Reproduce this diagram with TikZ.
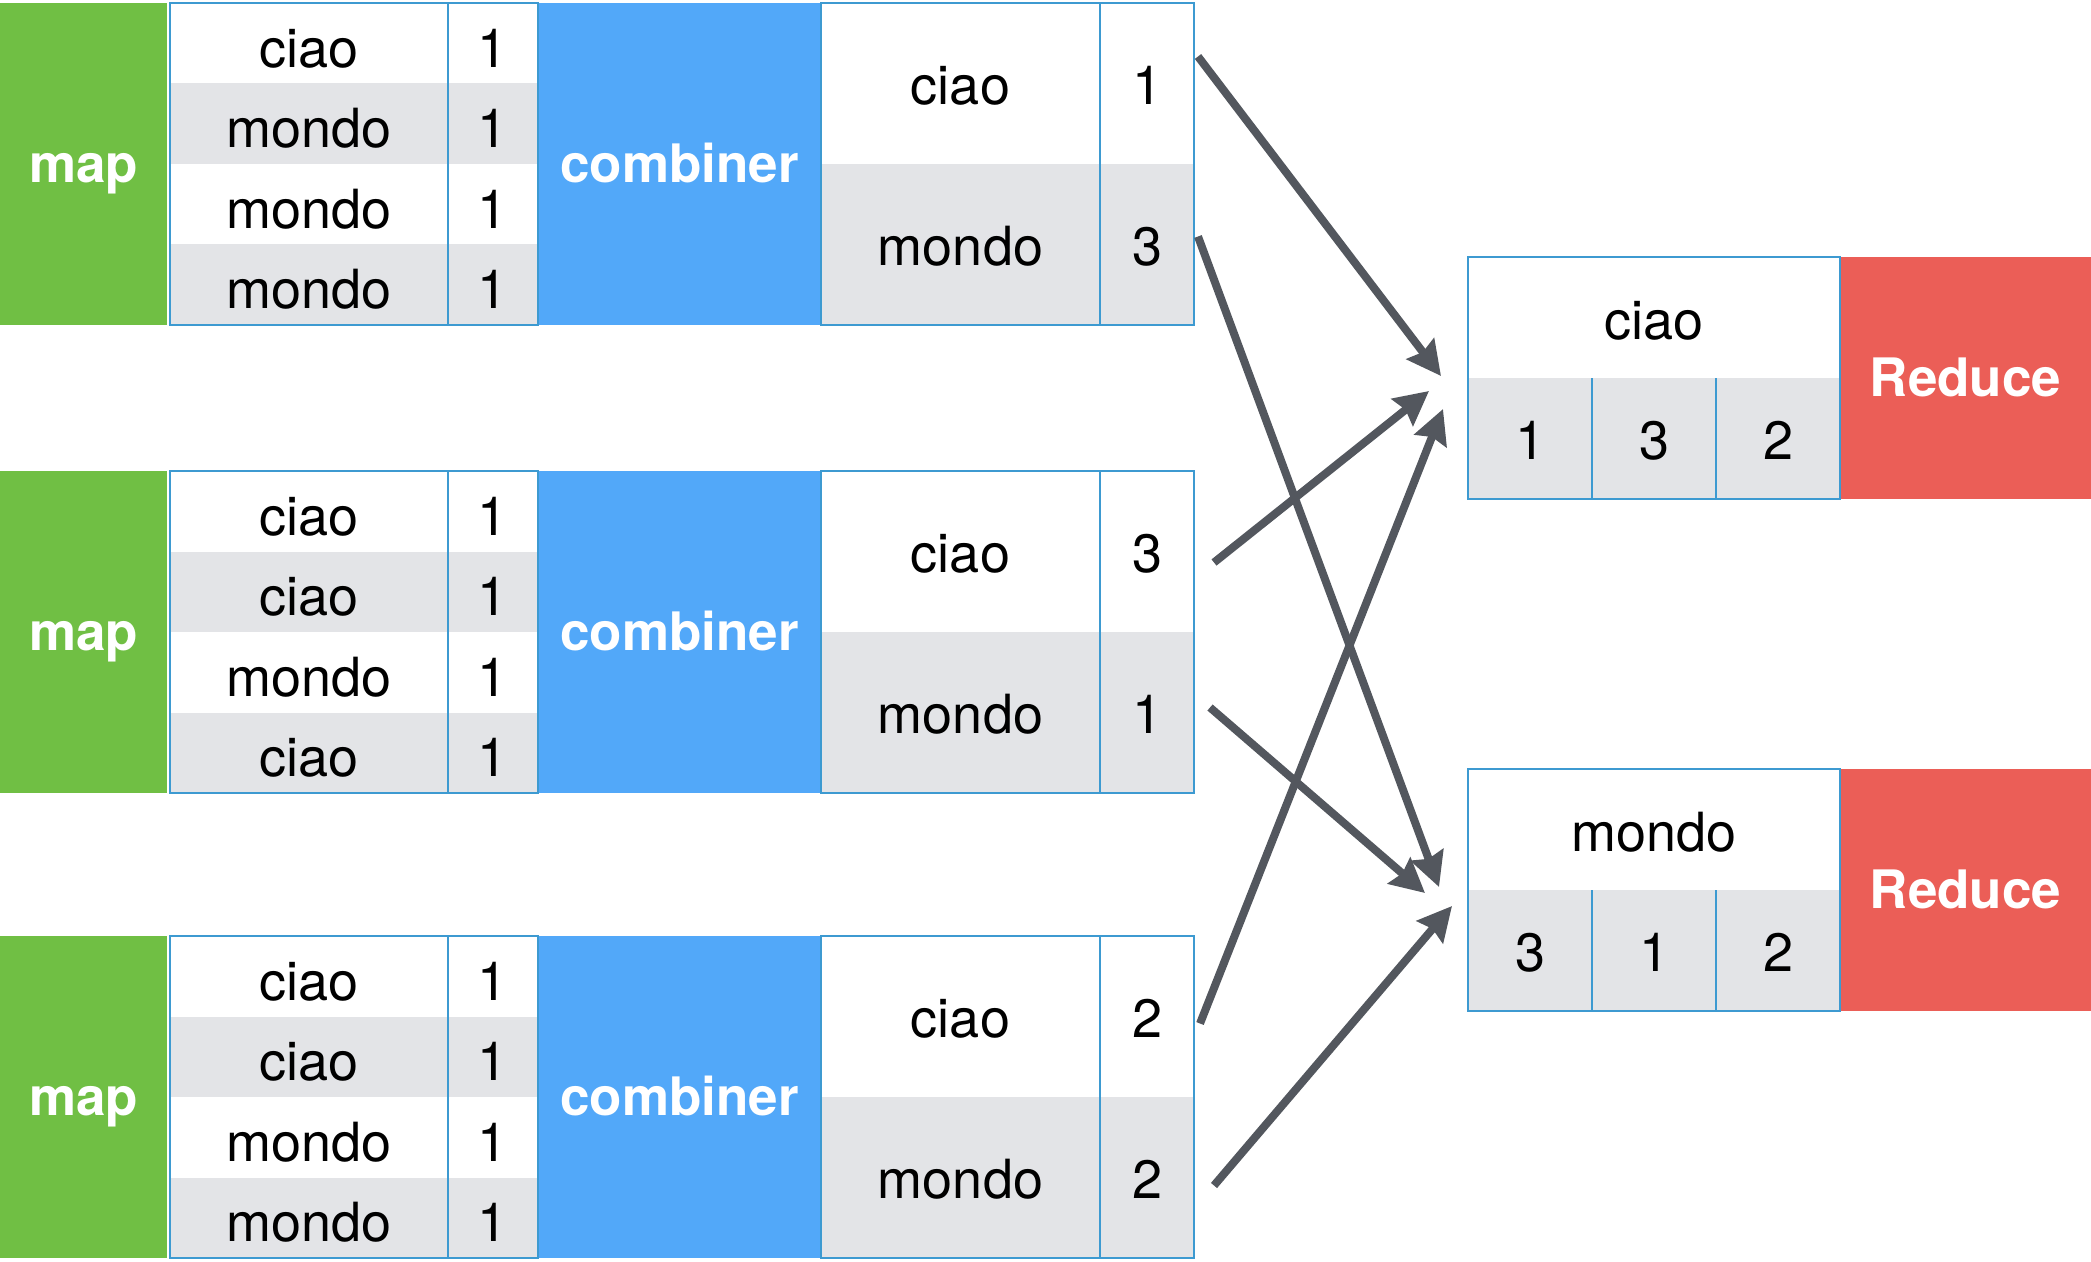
\documentclass[tikz,border=0pt]{standalone}
\usepackage{fontspec}
\setmainfont{TeX Gyre Heros}
\usetikzlibrary{positioning,arrows.meta,calc}
\definecolor{mapc}{HTML}{70BF44}
\definecolor{combc}{HTML}{52A8F9}
\definecolor{redc}{HTML}{EB5E57}
\definecolor{rowg}{HTML}{E3E4E7}
\definecolor{gridc}{HTML}{3D9AD1}
\definecolor{arrowc}{HTML}{53575E}
\tikzset{
  cell/.style={inner sep=0pt, outer sep=0pt, font=\fontsize{27}{30}\selectfont,
              text height=21pt, text depth=0pt},
  word/.style={cell, text height=24pt, minimum width=139pt, minimum height=40.25pt},
  num/.style={cell, text height=24pt, minimum width=45pt, minimum height=40.25pt},
  cword/.style={cell, minimum width=139.5pt, minimum height=80.5pt},
  cnum/.style={cell, minimum width=47pt, minimum height=80.5pt},
  rword/.style={cell, text height=22pt, minimum width=186pt, minimum height=60.5pt},
  rnum/.style={cell, fill=rowg, minimum width=62pt, minimum height=60.5pt},
  shade/.style={fill=rowg},
  stagebox/.style={inner sep=0pt, outer sep=0pt, text=white,
              font=\fontsize{26.5}{30}\selectfont\bfseries, text height=24pt, text depth=5.3pt},
  mapbox/.style={stagebox, fill=mapc, minimum width=83.5pt, minimum height=161pt},
  combbox/.style={stagebox, fill=combc, minimum width=141.5pt, minimum height=161pt},
  redbox/.style={stagebox, fill=redc, minimum width=125.5pt, minimum height=121pt},
  tableline/.style={draw=gridc, line width=1.2pt},
  flow/.style={draw=arrowc, line width=4pt, -{Stealth[length=17pt,width=17pt,inset=2pt]}},
}
\begin{document}
\begin{tikzpicture}
\useasboundingbox (0,0) rectangle (1045.5pt,-631pt);
% first mapper
\node[mapbox, anchor=north west] (map1) at (0,-1.5pt) {map};
\node[word, below right=0pt and 1.5pt of map1.north east] (w1a) {ciao};
\node[num, right=0pt of w1a] (n1a) {1};
\node[word, shade, below=0pt of w1a] (w1b) {mondo};
\node[num, shade, right=0pt of w1b] (n1b) {1};
\node[word, below=0pt of w1b] (w1c) {mondo};
\node[num, right=0pt of w1c] (n1c) {1};
\node[word, shade, below=0pt of w1c] (w1d) {mondo};
\node[num, shade, right=0pt of w1d] (n1d) {1};
\node[combbox, below right=0pt of n1a.north east] (comb1) {combiner};
\node[cword, below right=0pt of comb1.north east] (cw1a) {ciao};
\node[cnum, right=0pt of cw1a] (cn1a) {1};
\node[cword, shade, below=0pt of cw1a] (cw1b) {mondo};
\node[cnum, shade, right=0pt of cw1b] (cn1b) {3};
\draw[tableline] (w1a.north west) rectangle (n1d.south east) (n1a.north west) -- (n1d.south west);
\draw[tableline] (cw1a.north west) rectangle (cn1b.south east) (cn1a.north west) -- (cn1b.south west);

% second mapper
\node[mapbox, anchor=north west] (map2) at (0,-235.5pt) {map};
\node[word, below right=0pt and 1.5pt of map2.north east] (w2a) {ciao};
\node[num, right=0pt of w2a] (n2a) {1};
\node[word, shade, below=0pt of w2a] (w2b) {ciao};
\node[num, shade, right=0pt of w2b] (n2b) {1};
\node[word, below=0pt of w2b] (w2c) {mondo};
\node[num, right=0pt of w2c] (n2c) {1};
\node[word, shade, below=0pt of w2c] (w2d) {ciao};
\node[num, shade, right=0pt of w2d] (n2d) {1};
\node[combbox, below right=0pt of n2a.north east] (comb2) {combiner};
\node[cword, below right=0pt of comb2.north east] (cw2a) {ciao};
\node[cnum, right=0pt of cw2a] (cn2a) {3};
\node[cword, shade, below=0pt of cw2a] (cw2b) {mondo};
\node[cnum, shade, right=0pt of cw2b] (cn2b) {1};
\draw[tableline] (w2a.north west) rectangle (n2d.south east) (n2a.north west) -- (n2d.south west);
\draw[tableline] (cw2a.north west) rectangle (cn2b.south east) (cn2a.north west) -- (cn2b.south west);

% third mapper
\node[mapbox, anchor=north west] (map3) at (0,-468pt) {map};
\node[word, below right=0pt and 1.5pt of map3.north east] (w3a) {ciao};
\node[num, right=0pt of w3a] (n3a) {1};
\node[word, shade, below=0pt of w3a] (w3b) {ciao};
\node[num, shade, right=0pt of w3b] (n3b) {1};
\node[word, below=0pt of w3b] (w3c) {mondo};
\node[num, right=0pt of w3c] (n3c) {1};
\node[word, shade, below=0pt of w3c] (w3d) {mondo};
\node[num, shade, right=0pt of w3d] (n3d) {1};
\node[combbox, below right=0pt of n3a.north east] (comb3) {combiner};
\node[cword, below right=0pt of comb3.north east] (cw3a) {ciao};
\node[cnum, right=0pt of cw3a] (cn3a) {2};
\node[cword, shade, below=0pt of cw3a] (cw3b) {mondo};
\node[cnum, shade, right=0pt of cw3b] (cn3b) {2};
\draw[tableline] (w3a.north west) rectangle (n3d.south east) (n3a.north west) -- (n3d.south west);
\draw[tableline] (cw3a.north west) rectangle (cn3b.south east) (cn3a.north west) -- (cn3b.south west);

% reducers
\node[rword, anchor=north west] (rct) at (734pt,-128.5pt) {ciao};
\node[rnum, below right=0pt of rct.south west] (rc1) {1};
\node[rnum, right=0pt of rc1] (rc2) {3};
\node[rnum, right=0pt of rc2] (rc3) {2};
\node[redbox, below right=0pt of rct.north east] (red1) {Reduce};
\draw[tableline] (rct.north west) rectangle (rc3.south east)
  (rc1.north east) -- (rc1.south east) (rc2.north east) -- (rc2.south east);

\node[rword, anchor=north west] (rmt) at (734pt,-384.5pt) {mondo};
\node[rnum, below right=0pt of rmt.south west] (rm1) {3};
\node[rnum, right=0pt of rm1] (rm2) {1};
\node[rnum, right=0pt of rm2] (rm3) {2};
\node[redbox, below right=0pt of rmt.north east] (red2) {Reduce};
\draw[tableline] (rmt.north west) rectangle (rm3.south east)
  (rm1.north east) -- (rm1.south east) (rm2.north east) -- (rm2.south east);

% shuffle
\draw[flow] ([xshift=2pt,yshift=13.5pt]cn1a.east) -- ([xshift=-13.5pt,yshift=1pt]rct.south west);
\draw[flow] ([xshift=2pt,yshift=4pt]cn1b.east) -- ([xshift=-14.5pt,yshift=1.5pt]rmt.south west);
\draw[flow] ([xshift=10pt,yshift=-5.5pt]cn2a.east) -- ([xshift=-19.5pt,yshift=-6.5pt]rct.south west);
\draw[flow] ([xshift=8pt,yshift=2.5pt]cn2b.east) -- ([xshift=-21.5pt,yshift=-1.5pt]rmt.south west);
\draw[flow] ([xshift=3pt,yshift=-3.5pt]cn3a.east) -- ([xshift=-12.5pt,yshift=-15.5pt]rct.south west);
\draw[flow] ([xshift=10pt,yshift=-4pt]cn3b.east) -- ([xshift=-8pt,yshift=-8pt]rmt.south west);
\end{tikzpicture}
\end{document}
